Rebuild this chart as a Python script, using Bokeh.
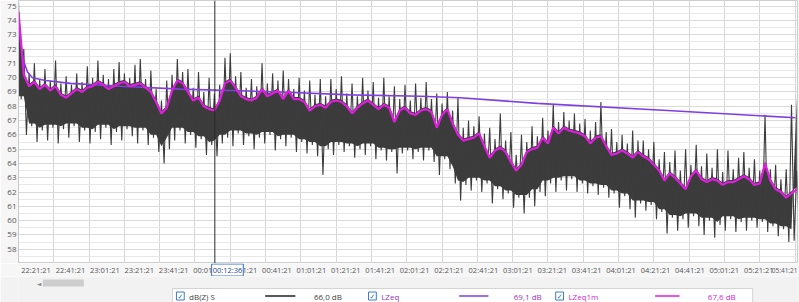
import numpy as np
from bokeh.plotting import figure
from bokeh.models import FixedTicker, Span, Label, Range1d
from bokeh.layouts import column
from bokeh.embed import file_html
from bokeh.resources import INLINE
from bokeh.core.properties import value

# ---------------- data ----------------
step_min = 3.0  # minutes between samples, starting 22:21:21

dbz_hi = [75.3, 72.0, 70.3, 71.0, 69.9, 70.6, 69.8, 71.2, 69.6, 70.1,
          69.5, 70.3, 69.7, 70.8, 70.0, 71.2, 70.2, 69.9, 70.6, 71.1,
          70.3, 70.0, 70.9, 71.3, 69.9, 70.5, 69.2, 68.4, 69.8, 70.2,
          71.3, 70.4, 70.6, 69.3, 70.4, 69.0, 70.0, 68.9, 69.5, 71.4,
          71.7, 70.1, 70.4, 69.3, 69.9, 69.4, 71.0, 69.6, 70.3, 69.8,
          70.5, 69.9, 69.2, 70.0, 69.1, 69.8, 68.8, 69.9, 68.7, 69.9,
          69.2, 70.1, 68.9, 69.6, 68.7, 70.0, 69.1, 69.7, 68.6, 70.0,
          68.7, 69.4, 68.5, 69.5, 68.4, 69.6, 68.6, 69.7, 68.5, 68.9,
          68.2, 69.0, 67.7, 68.6, 66.5, 67.0, 66.6, 67.3, 66.1, 66.5,
          65.7, 67.5, 65.6, 66.2, 64.6, 66.0, 65.5, 66.6, 65.9, 67.2,
          66.3, 68.1, 66.9, 67.6, 67.0, 67.5, 66.8, 67.1, 66.3, 66.9,
          68.3, 66.2, 66.4, 65.5, 66.0, 65.4, 66.3, 65.6, 65.6, 65.0,
          65.5, 64.3, 64.8, 64.1, 64.9, 63.5, 65.0, 63.9, 65.3, 63.8,
          64.7, 63.7, 65.0, 63.4, 64.9, 63.6, 64.4, 64.8, 63.7, 64.3,
          63.5, 67.4, 63.6, 63.9, 62.9, 63.6, 68.1, 63.5]

dbz_lo = [68.5, 66.0, 66.6, 65.5, 66.3, 65.6, 66.5, 65.4, 66.4, 65.8,
          66.6, 65.5, 66.3, 65.4, 66.2, 65.7, 66.5, 65.3, 66.2, 65.6,
          66.4, 65.9, 65.4, 66.3, 65.3, 65.8, 64.8, 64.0, 65.0, 65.6,
          66.3, 65.4, 66.0, 65.1, 65.7, 64.6, 65.3, 64.5, 65.4, 65.8,
          65.2, 66.1, 65.3, 65.9, 65.0, 65.8, 65.4, 66.0, 64.9, 65.7,
          65.2, 65.8, 64.8, 65.5, 64.7, 65.3, 64.5, 63.2, 65.0, 64.6,
          65.3, 64.8, 65.2, 64.4, 65.0, 64.6, 65.2, 64.3, 64.9, 64.2,
          64.8, 63.3, 64.7, 64.9, 64.3, 64.8, 64.2, 64.9, 64.1, 63.2,
          64.3, 63.6, 62.6, 61.4, 62.5, 62.1, 62.8, 62.0, 62.6, 61.2,
          62.2, 61.5, 61.9, 60.9, 61.6, 60.5, 61.6, 61.0, 62.0, 61.7,
          62.6, 62.0, 62.8, 62.1, 62.9, 62.0, 62.6, 61.9, 62.4, 61.8,
          62.3, 61.6, 61.9, 60.9, 61.7, 60.8, 60.2, 61.2, 60.7, 61.1,
          60.1, 60.6, 59.1, 60.2, 59.3, 60.1, 59.5, 60.3, 59.6, 59.0,
          60.0, 58.8, 59.7, 59.3, 60.1, 59.2, 59.9, 59.3, 60.0, 59.5,
          59.9, 59.2, 59.6, 58.9, 59.4, 58.5, 58.6, 59.2]

lzeq1m = [74.6, 70.2, 69.4, 69.7, 69.2, 69.5, 69.1, 69.4, 68.8, 68.6,
          68.9, 69.2, 69.0, 69.3, 69.4, 69.7, 69.5, 69.2, 69.4, 69.6,
          69.7, 69.4, 69.5, 69.6, 69.3, 69.0, 68.3, 67.5, 67.9, 69.1,
          69.8, 69.6, 69.0, 68.4, 68.6, 68.0, 67.8, 67.7, 68.4, 69.6,
          69.8, 69.3, 68.7, 68.5, 68.4, 68.6, 69.2, 68.7, 68.9, 69.1,
          68.5, 69.1, 68.5, 68.5, 68.3, 67.7, 68.0, 68.1, 67.9, 68.3,
          68.4, 68.3, 68.0, 67.5, 67.9, 68.2, 68.4, 68.1, 67.8, 68.1,
          67.9, 66.9, 67.7, 67.9, 67.5, 67.4, 67.7, 67.8, 67.6, 66.5,
          67.4, 67.8, 66.8, 66.0, 65.6, 65.7, 65.8, 66.1, 65.2, 64.4,
          64.9, 65.1, 64.8, 64.1, 63.5, 63.9, 64.8, 65.0, 65.1, 65.8,
          65.4, 66.5, 66.1, 66.5, 66.3, 66.2, 66.1, 65.9, 65.4, 65.8,
          65.9, 65.2, 64.6, 64.7, 64.9, 64.7, 64.4, 64.8, 64.5, 64.3,
          63.9, 63.5, 62.8, 63.3, 63.0, 62.6, 62.2, 63.1, 63.5, 62.9,
          62.7, 62.9, 62.8, 62.5, 62.7, 62.7, 62.9, 63.1, 62.9, 62.5,
          62.6, 64.0, 62.8, 62.2, 62.0, 61.6, 61.9, 62.2]

lzeq_t = [0.0, 1.1, 2.8, 5.1, 7.9, 15.3, 29.5, 57.8, 91.8, 120.1,
          148.4, 188.1, 227.8, 250.4, 294.0, 367.7, 440.2]
lzeq = [74.6, 72.5, 71.2, 70.4, 70.0, 69.8, 69.6, 69.4, 69.2, 69.1,
        69.0, 68.8, 68.7, 68.6, 68.2, 67.7, 67.2]

tick_minutes = [0, 20, 40, 60, 80, 100, 120, 140, 160, 180, 200, 220,
                240, 260, 280, 300, 320, 340, 360, 380, 400, 420, 440]
tick_labels = ["22:21:21", "22:41:21", "23:01:21", "23:21:21", "23:41:21",
               "00:01:21", "00:21:21", "00:41:21", "01:01:21", "01:21:21",
               "01:41:21", "02:01:21", "02:21:21", "02:41:21", "03:01:21",
               "03:21:21", "03:41:21", "04:01:21", "04:21:21", "04:41:21",
               "05:01:21", "05:21:21", "05:41:21"]
y_ticks = list(range(58, 76))

cursor_minute = 111.25
cursor_label = "00:12:36"

legend_names = ["dB(Z) S", "LZeq", "LZeq1m"]
legend_values = ["66,0 dB", "69,1 dB", "67,6 dB"]

# ---------------- styling ----------------
C_DARK = "#3c3c3c"
C_LZEQ = "#7f3fe0"
C_1M = "#e01ee0"
FONT = "Open Sans"
X0, X1 = 0.0, 441.4          # data range of the plot frame (minutes)
FRAME_L, FRAME_R, W = 18, 2, 799
MIN_PER_PX = (X1 - X0) / (W - FRAME_L - FRAME_R)

n = len(dbz_hi)
t = np.arange(n) * step_min
zx = np.empty(2 * n)
zy = np.empty(2 * n)
zx[0::2] = t
zx[1::2] = t + step_min / 2
zy[0::2] = dbz_hi
zy[1::2] = dbz_lo

lo_arr = np.array(dbz_lo)
core_bot = np.maximum(lo_arr, np.maximum(np.roll(lo_arr, 1), np.roll(lo_arr, -1))) + 0.2
core_top = np.array(lzeq1m) + 0.15

# ---------------- main plot ----------------
p = figure(width=W, height=263, x_range=Range1d(X0, X1), y_range=Range1d(57.0, 75.4),
           output_backend="svg", toolbar_location=None,
           min_border_left=FRAME_L, min_border_right=FRAME_R, min_border_top=0, min_border_bottom=0,
           background_fill_color="white", border_fill_color="#f6f6f6",
           outline_line_color="#cfcfcf")

p.xaxis.visible = False
p.yaxis.ticker = FixedTicker(ticks=y_ticks, minor_ticks=[v + 0.5 for v in range(56, 76)])
ax = p.yaxis[0]
ax.major_tick_out = 0
ax.major_tick_in = 0
ax.minor_tick_out = 0
ax.minor_tick_in = 0
ax.axis_line_color = "#c8c8c8"
ax.major_label_text_font = FONT
ax.major_label_text_font_size = "8px"
ax.major_label_text_color = "#555555"
ax.major_label_standoff = 2
p.xgrid.ticker = FixedTicker(ticks=tick_minutes)
p.xgrid.grid_line_color = "#d6d6d6"
p.ygrid.grid_line_color = "#dadada"
p.ygrid.minor_grid_line_color = "#e8e8e8"

# dB(Z) S: dense core + spikes
p.varea(x=t, y1=core_top, y2=core_bot, fill_color=C_DARK)
p.line(zx, zy, line_color=C_DARK, line_width=1.1)

# LZeq
p.line(lzeq_t, lzeq, line_color=C_LZEQ, line_width=1.6)
# LZeq1m
p.line(t, lzeq1m, line_color=C_1M, line_width=2.2)

# cursor
p.add_layout(Span(location=cursor_minute, dimension="height", line_color="#2a2a2a", line_width=1))

# ---------------- time-axis strip (frame spans the full width) ----------------
s = figure(width=W, height=13,
           x_range=Range1d(X0 - FRAME_L * MIN_PER_PX, X1 + FRAME_R * MIN_PER_PX),
           y_range=Range1d(0, 1),
           output_backend="svg", toolbar_location=None, min_border=0,
           background_fill_color="#f6f6f6", border_fill_color="#f6f6f6", outline_line_color=None)
s.axis.visible = False
s.grid.visible = False
s.text(x=tick_minutes[:-1], y=[0.5] * (len(tick_minutes) - 1), text=tick_labels[:-1],
       text_font=value(FONT), text_font_size="7.5px", text_color="#555555",
       text_align="center", text_baseline="middle")
# last label is kept inside the window, right-aligned at the edge
s.text(x=[X1 + FRAME_R * MIN_PER_PX], y=[0.5], text=tick_labels[-1:],
       text_font=value(FONT), text_font_size="6.5px", text_color="#555555",
       text_align="right", text_baseline="middle")
s.add_layout(Label(x=cursor_minute, y=0.5, text=cursor_label, text_align="center",
                   text_baseline="middle", text_font=FONT, text_font_size="7.5px",
                   text_color="#1f3f8f", background_fill_color="white",
                   border_line_color="#3a6fd0", border_line_width=1, padding=1))

# ---------------- bottom strip: scrollbar + legend ----------------
b = figure(width=W, height=26, x_range=Range1d(0, W), y_range=Range1d(26, 0),
           output_backend="svg", toolbar_location=None, min_border=0,
           background_fill_color="#f2f2f2", border_fill_color="#f2f2f2", outline_line_color=None)
b.axis.visible = False
b.grid.visible = False

b.text(x=[21], y=[6.5], text=["\u25c4"], text_font=value("DejaVu Sans"), text_font_size="6px",
       text_color="#8a8a8a", text_align="center", text_baseline="middle")
b.quad(left=[25], right=[67], top=[3], bottom=[10], fill_color="#cdcdcd", line_color=None)

b.quad(left=[158], right=[753], top=[12], bottom=[26], fill_color="white", line_color="#d4d4d4")

box_x = [162, 359, 551]
name_x = [175, 372, 564]
seg_x0 = [253, 452, 653]
seg_x1 = [284, 482, 678]
val_x = [303, 508, 707]
row_y = 19.5
item_colors = ["#222222", C_LZEQ, C_1M]
text_colors = ["#444444", "#9a35c8", "#d42ad4"]
for k in range(3):
    b.quad(left=[box_x[k]], right=[box_x[k] + 8], top=[row_y - 4], bottom=[row_y + 4],
           fill_color="white", line_color="#3c7ad0", line_width=1)
    b.text(x=[box_x[k] + 4], y=[row_y + 0.5], text=["\u2713"], text_font=value("DejaVu Sans"),
           text_font_size="7px", text_color="#2c68c0", text_align="center", text_baseline="middle")
    b.text(x=[name_x[k]], y=[row_y], text=[legend_names[k]], text_font=value(FONT),
           text_font_size="8px", text_color=text_colors[k], text_baseline="middle")
    b.segment(x0=[seg_x0[k]], y0=[row_y], x1=[seg_x1[k]], y1=[row_y],
              line_color=item_colors[k], line_width=1.5)
    b.text(x=[val_x[k]], y=[row_y], text=[legend_values[k]], text_font=value(FONT),
           text_font_size="8px", text_color=text_colors[k], text_baseline="middle")

layout = column(p, s, b, spacing=0)
open("out.html", "w").write(file_html(layout, INLINE))
